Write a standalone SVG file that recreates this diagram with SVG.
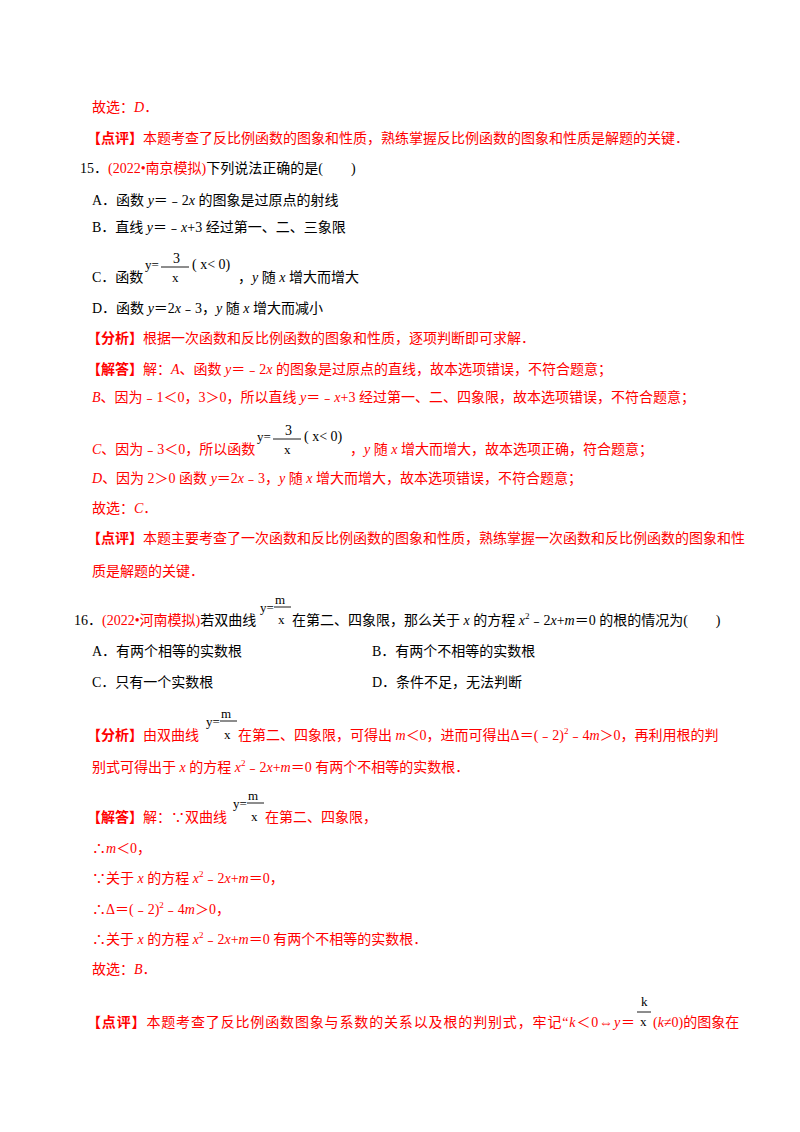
<svg xmlns="http://www.w3.org/2000/svg" width="800" height="1132" viewBox="0 0 800 1132">
<style>
text{font-family:"Liberation Serif","Noto Sans CJK SC",serif;font-size:14px;fill:#000}
.r{fill:#f00}
.b{font-weight:bold}
.i{font-style:italic}
.f{font-size:13px}
.fl{stroke:#000;stroke-width:0.9}
</style>
<rect width="800" height="1132" fill="#fff"/>
<text x="92" y="112" class="r">故选：<tspan class="i">D</tspan>．</text>
<text x="87" y="143" class="r"><tspan class="b">【点评】</tspan>本题考查了反比例函数的图象和性质，熟练掌握反比例函数的图象和性质是解题的关键．</text>
<text x="80" y="173">15．<tspan class="r">(2022•南京模拟)</tspan>下列说法正确的是(　　)</text>
<text x="92" y="205">A．函数 <tspan class="i">y</tspan>＝﹣2<tspan class="i">x</tspan> 的图象是过原点的射线</text>
<text x="92" y="232">B．直线 <tspan class="i">y</tspan>＝﹣<tspan class="i">x</tspan>+3 经过第一、二、三象限</text>
<text x="92" y="282">C．函数</text>
<g><text x="145" y="269" class="f">y=</text><text x="173" y="263" font-size="16">3</text><line x1="161" y1="267" x2="189" y2="267" class="fl"/><text x="172" y="282" class="f">x</text><text x="192" y="269" font-size="15">( x&lt; 0)</text></g>
<text x="238" y="282">，<tspan class="i">y</tspan> 随 <tspan class="i">x</tspan> 增大而增大</text>
<text x="92" y="313">D．函数 <tspan class="i">y</tspan>＝2<tspan class="i">x</tspan>﹣3，<tspan class="i">y</tspan> 随 <tspan class="i">x</tspan> 增大而减小</text>
<text x="87" y="343" class="r"><tspan class="b">【分析】</tspan>根据一次函数和反比例函数的图象和性质，逐项判断即可求解．</text>
<text x="87" y="374" class="r"><tspan class="b">【解答】</tspan>解：<tspan class="i">A</tspan>、函数 <tspan class="i">y</tspan>＝﹣2<tspan class="i">x</tspan> 的图象是过原点的直线，故本选项错误，不符合题意；</text>
<text x="92" y="402" class="r"><tspan class="i">B</tspan>、因为﹣1＜0，3＞0，所以直线 <tspan class="i">y</tspan>＝﹣<tspan class="i">x</tspan>+3 经过第一、二、四象限，故本选项错误，不符合题意；</text>
<text x="92" y="454" class="r"><tspan class="i">C</tspan>、因为﹣3＜0，所以函数</text>
<g><text x="257" y="441" class="f">y=</text><text x="285" y="435" font-size="16">3</text><line x1="273" y1="439" x2="301" y2="439" class="fl"/><text x="284" y="454" class="f">x</text><text x="304" y="441" font-size="15">( x&lt; 0)</text></g>
<text x="350" y="454" class="r">，<tspan class="i">y</tspan> 随 <tspan class="i">x</tspan> 增大而增大，故本选项正确，符合题意；</text>
<text x="92" y="483" class="r"><tspan class="i">D</tspan>、因为 2＞0 函数 <tspan class="i">y</tspan>＝2<tspan class="i">x</tspan>﹣3，<tspan class="i">y</tspan> 随 <tspan class="i">x</tspan> 增大而增大，故本选项错误，不符合题意；</text>
<text x="92" y="513" class="r">故选：<tspan class="i">C</tspan>．</text>
<text x="87" y="543" class="r"><tspan class="b">【点评】</tspan>本题主要考查了一次函数和反比例函数的图象和性质，熟练掌握一次函数和反比例函数的图象和性</text>
<text x="92" y="576" class="r">质是解题的关键．</text>
<text x="74" y="625">16．<tspan class="r">(2022•河南模拟)</tspan>若双曲线</text>
<g><text x="260" y="612" class="f">y=</text><text x="275" y="604" class="f">m</text><line x1="274" y1="607" x2="291" y2="607" class="fl"/><text x="278" y="624" class="f">x</text></g>
<text x="292" y="625">在第二、四象限，那么关于 <tspan class="i">x</tspan> 的方程 <tspan class="i">x</tspan><tspan font-size="9" dy="-6">2</tspan><tspan dy="6">﹣2</tspan><tspan class="i">x</tspan>+<tspan class="i">m</tspan>＝0 的根的情况为(　　)</text>
<text x="92" y="656">A．有两个相等的实数根</text>
<text x="372" y="656">B．有两个不相等的实数根</text>
<text x="92" y="687">C．只有一个实数根</text>
<text x="372" y="687">D．条件不足，无法判断</text>
<text x="87" y="740" class="r"><tspan class="b">【分析】</tspan>由双曲线</text>
<g><text x="206" y="726" class="f">y=</text><text x="221" y="718" class="f">m</text><line x1="220" y1="721" x2="237" y2="721" class="fl"/><text x="224" y="739" class="f">x</text></g>
<text x="238" y="740" class="r">在第二、四象限，可得出 <tspan class="i">m</tspan>＜0，进而可得出Δ＝(﹣2)<tspan font-size="9" dy="-6">2</tspan><tspan dy="6">﹣4</tspan><tspan class="i">m</tspan>＞0，再利用根的判</text>
<text x="92" y="772" class="r">别式可得出于 <tspan class="i">x</tspan> 的方程 <tspan class="i">x</tspan><tspan font-size="9" dy="-6">2</tspan><tspan dy="6">﹣2</tspan><tspan class="i">x</tspan>+<tspan class="i">m</tspan>＝0 有两个不相等的实数根．</text>
<text x="87" y="822" class="r"><tspan class="b">【解答】</tspan>解：∵双曲线</text>
<g><text x="233" y="808" class="f">y=</text><text x="248" y="800" class="f">m</text><line x1="247" y1="803" x2="264" y2="803" class="fl"/><text x="251" y="821" class="f">x</text></g>
<text x="265" y="822" class="r">在第二、四象限，</text>
<text x="92" y="853" class="r">∴<tspan class="i">m</tspan>＜0，</text>
<text x="92" y="883" class="r">∵关于 <tspan class="i">x</tspan> 的方程 <tspan class="i">x</tspan><tspan font-size="9" dy="-6">2</tspan><tspan dy="6">﹣2</tspan><tspan class="i">x</tspan>+<tspan class="i">m</tspan>＝0，</text>
<text x="92" y="914" class="r">∴Δ＝(﹣2)<tspan font-size="9" dy="-6">2</tspan><tspan dy="6">﹣4</tspan><tspan class="i">m</tspan>＞0，</text>
<text x="92" y="944" class="r">∴关于 <tspan class="i">x</tspan> 的方程 <tspan class="i">x</tspan><tspan font-size="9" dy="-6">2</tspan><tspan dy="6">﹣2</tspan><tspan class="i">x</tspan>+<tspan class="i">m</tspan>＝0 有两个不相等的实数根．</text>
<text x="92" y="974" class="r">故选：<tspan class="i">B</tspan>．</text>
<text x="87" y="1027" class="r" textLength="548" lengthAdjust="spacing"><tspan class="b">【点评】</tspan>本题考查了反比例函数图象与系数的关系以及根的判别式，牢记“<tspan class="i">k</tspan>＜0⇔<tspan class="i">y</tspan>＝</text>
<g><text x="641" y="1006" class="f">k</text><line x1="637" y1="1012" x2="651" y2="1012" class="fl"/><text x="640" y="1026" class="f">x</text></g>
<text x="653" y="1027" class="r">(<tspan class="i">k</tspan>≠0)的图象在</text>
</svg>
